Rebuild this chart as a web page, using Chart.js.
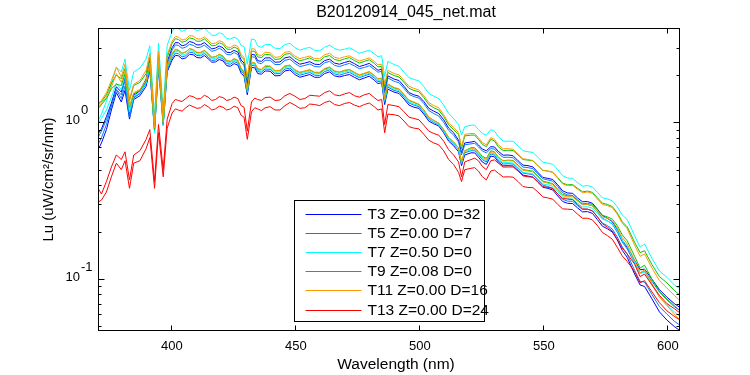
<!DOCTYPE html>
<html>
<head>
<meta charset="utf-8">
<script src="https://cdn.jsdelivr.net/npm/chart.js@4.4.0/dist/chart.umd.min.js"></script>
<style>
html, body { margin: 0; padding: 0; background: #fff; }
</style>
</head>
<body>
<canvas id="chart1" width="750" height="375"></canvas>
<script>
// wavelength grid (nm)
const wavelengths = [370.6,372,374,376,378,380,381.5,383.3,385,387.5,390,391.5,393.4,395,396.9,398.5,
	400.5,401.8,403,404.5,406,407.5,409,410.5,412,413.5,415,416.5,418,419.5,421,422.5,424,425.5,427,428.3,
	429.5,430.8,432.5,433.8,435,436.5,438,440,442,444,446,448,450,452,454,456,458,460,462,464,466,468,
	470,472,474,476,478,480,482,483.5,485,
	486.2,487.5,490,492,494,496,498,500,502,504,506,508,510,512,514,516,517.2,518.5,
	521,522.5,524,525.6,527.2,529,530.5,532,534,536,538,540,542,544,546,548,550,552,554,556,558,560,
	562,564,566,568,570,572,574,576,578,580,582,584,
	587,589.2,591,594,597,600,603,605.3];

const xTicks = [400, 450, 500, 550, 600];
const yTickExps = [-1, 0];

const legendLabels = ['T3 Z=0.00 D=32', 'T5 Z=0.00 D=7', 'T7 Z=0.50 D=0',
	'T9 Z=0.08 D=0', 'T11 Z=0.00 D=16', 'T13 Z=0.00 D=24'];
const colors = ['#0000ff', '#0a7bf0', '#00ffff', '#00c800', '#ff9900', '#ff0000'];

// T3 (two casts)
const t3a = [0.845,0.91,1.09,1.33,1.69,1.56,1.93,1.12,1.49,1.59,1.89,2.48,0.95,2.57,1.05,2.43,
	3.00,3.23,3.22,3.08,3.13,3.28,3.23,3.12,3.13,3.23,3.08,2.94,2.98,3.07,2.99,2.80,2.79,2.88,2.81,2.50,2.39,1.76,2.71,2.70,2.48,2.45,2.58,2.58,2.42,2.43,2.58,2.62,2.46,2.35,2.39,2.44,2.35,2.34,2.48,2.53,2.39,2.35,2.41,2.46,2.37,2.27,2.32,2.38,2.25,2.15,2.19,
	1.58,1.98,1.89,1.85,1.70,1.55,1.50,1.47,1.36,1.23,1.18,1.14,1.04,0.92,0.86,0.77,0.64,0.74,
	0.75,0.757,0.72,0.676,0.66,0.70,0.698,0.655,0.618,0.62,0.613,0.57,0.534,0.53,0.52,0.48,0.446,0.44,0.433,0.40,0.366,0.355,0.353,0.33,0.312,0.313,0.305,0.28,0.255,0.245,0.233,0.208,0.178,0.16,
	0.132,0.115,0.116,0.10,0.086,0.077,0.07,0.066];
const t3b = [0.67,0.74,0.90,1.20,1.55,1.35,1.60,1.05,1.40,1.48,1.70,2.15,0.88,2.25,0.96,2.10,
	2.50,2.68,2.66,2.54,2.58,2.72,2.70,2.59,2.58,2.67,2.55,2.42,2.43,2.52,2.47,2.30,2.28,2.37,2.32,2.06,1.97,1.50,2.24,2.23,2.05,2.03,2.13,2.12,1.98,1.99,2.13,2.16,2.02,1.94,1.98,2.02,1.94,1.94,2.05,2.10,1.98,1.95,1.99,2.02,1.94,1.87,1.92,1.97,1.86,1.77,1.79,
	1.30,1.63,1.56,1.53,1.41,1.29,1.25,1.23,1.13,1.02,0.98,0.95,0.86,0.76,0.71,0.65,0.53,0.62,
	0.64,0.64,0.60,0.559,0.54,0.61,0.603,0.56,0.529,0.53,0.528,0.495,0.461,0.455,0.448,0.415,0.386,0.38,0.371,0.34,0.313,0.305,0.304,0.285,0.269,0.27,0.263,0.24,0.218,0.21,0.20,0.178,0.153,0.138,
	0.108,0.092,0.09,0.075,0.062,0.055,0.05,0.047];
// T5
const t5a = [0.80,0.88,1.04,1.28,1.62,1.50,1.85,1.08,1.43,1.53,1.82,2.38,0.93,2.47,1.02,2.34,
	2.90,3.12,3.10,2.97,3.02,3.15,3.10,3.0,3.02,3.11,2.97,2.84,2.88,2.97,2.88,2.71,2.70,2.79,2.71,2.41,2.31,1.70,2.62,2.61,2.40,2.37,2.49,2.49,2.34,2.34,2.49,2.53,2.38,2.27,2.31,2.36,2.27,2.26,2.40,2.45,2.31,2.27,2.33,2.38,2.29,2.20,2.24,2.30,2.18,2.09,2.12,
	1.53,1.92,1.83,1.79,1.65,1.51,1.46,1.43,1.32,1.19,1.14,1.10,1.00,0.89,0.83,0.75,0.62,0.72,
	0.73,0.736,0.70,0.657,0.64,0.68,0.677,0.635,0.599,0.60,0.595,0.555,0.519,0.515,0.507,0.47,0.437,0.43,0.422,0.39,0.356,0.345,0.342,0.32,0.301,0.30,0.294,0.27,0.245,0.236,0.225,0.20,0.173,0.156,
	0.127,0.11,0.112,0.097,0.083,0.074,0.067,0.063];
const t5b = [0.72,0.80,0.97,1.27,1.62,1.42,1.70,1.10,1.45,1.53,1.76,2.22,0.90,2.32,0.99,2.17,
	2.58,2.77,2.74,2.62,2.66,2.80,2.78,2.67,2.66,2.75,2.62,2.48,2.50,2.60,2.54,2.37,2.35,2.44,2.39,2.12,2.03,1.54,2.31,2.30,2.11,2.09,2.19,2.18,2.04,2.05,2.19,2.22,2.08,2.00,2.04,2.08,2.00,1.99,2.11,2.16,2.04,2.00,2.05,2.09,2.00,1.93,1.98,2.03,1.92,1.82,1.84,
	1.34,1.68,1.60,1.57,1.45,1.33,1.29,1.26,1.16,1.05,1.00,0.97,0.88,0.78,0.73,0.67,0.545,0.64,
	0.66,0.66,0.62,0.578,0.56,0.63,0.62,0.575,0.543,0.545,0.543,0.51,0.475,0.47,0.464,0.43,0.398,0.39,0.381,0.35,0.323,0.315,0.314,0.295,0.279,0.28,0.273,0.25,0.228,0.22,0.209,0.186,0.161,0.145,
	0.114,0.097,0.096,0.08,0.067,0.06,0.054,0.051];
// T7
const t7a = [1.02,1.13,1.36,1.76,2.25,2.10,2.54,1.60,2.10,2.22,2.54,3.08,1.10,3.20,1.21,3.10,
	3.80,4.03,3.95,3.81,3.90,4.05,3.97,3.86,3.90,4.0,3.80,3.59,3.60,3.73,3.65,3.42,3.40,3.50,3.40,3.10,3.05,2.35,3.40,3.37,3.08,3.01,3.13,3.14,2.97,2.96,3.14,3.19,3.00,2.89,2.96,3.01,2.88,2.86,3.02,3.11,2.96,2.89,2.93,2.99,2.88,2.76,2.82,2.89,2.74,2.62,2.66,
	1.96,2.45,2.34,2.28,2.09,1.93,1.88,1.84,1.69,1.53,1.47,1.42,1.29,1.14,1.06,0.97,0.83,0.94,
	0.96,0.96,0.90,0.85,0.83,0.90,0.88,0.81,0.76,0.76,0.757,0.71,0.66,0.65,0.644,0.60,0.558,0.55,0.541,0.50,0.457,0.442,0.44,0.413,0.392,0.396,0.388,0.358,0.331,0.325,0.317,0.29,0.257,0.24,
	0.19,0.16,0.168,0.136,0.113,0.103,0.092,0.087];
const t7b = [0.98,1.06,1.20,1.45,1.78,1.62,1.98,1.17,1.46,1.55,1.78,2.28,0.86,2.38,0.95,2.22,
	2.66,2.85,2.82,2.69,2.73,2.87,2.84,2.72,2.72,2.81,2.68,2.54,2.56,2.66,2.60,2.43,2.40,2.49,2.44,2.16,2.07,1.57,2.36,2.35,2.15,2.13,2.24,2.22,2.08,2.10,2.24,2.27,2.12,2.04,2.08,2.12,2.04,2.04,2.16,2.20,2.08,2.05,2.10,2.13,2.04,1.96,2.01,2.06,1.95,1.85,1.87,
	1.38,1.71,1.63,1.60,1.47,1.35,1.31,1.28,1.17,1.06,1.01,0.97,0.88,0.78,0.73,0.67,0.55,0.65,
	0.67,0.67,0.63,0.588,0.57,0.64,0.631,0.585,0.553,0.555,0.551,0.515,0.48,0.475,0.469,0.435,0.405,0.40,0.392,0.362,0.334,0.326,0.325,0.305,0.289,0.29,0.284,0.262,0.242,0.236,0.227,0.205,0.178,0.163,
	0.128,0.108,0.112,0.092,0.077,0.069,0.062,0.058];
// T9
const t9a = [1.33,1.36,1.50,1.78,2.00,1.90,2.20,1.38,1.72,1.80,2.05,2.60,0.98,2.70,1.08,2.60,
	3.20,3.42,3.38,3.24,3.30,3.46,3.42,3.29,3.30,3.41,3.25,3.08,3.10,3.22,3.15,2.94,2.92,3.02,2.95,2.63,2.52,1.90,2.85,2.84,2.62,2.59,2.72,2.70,2.52,2.54,2.72,2.75,2.57,2.47,2.52,2.58,2.48,2.47,2.62,2.67,2.52,2.48,2.54,2.59,2.48,2.39,2.45,2.51,2.38,2.26,2.28,
	1.70,2.08,1.99,1.95,1.80,1.65,1.60,1.57,1.44,1.30,1.24,1.20,1.09,0.965,0.90,0.84,0.68,0.82,
	0.83,0.83,0.78,0.725,0.70,0.78,0.762,0.70,0.662,0.665,0.662,0.62,0.58,0.575,0.569,0.53,0.495,0.49,0.482,0.445,0.41,0.40,0.402,0.38,0.361,0.365,0.358,0.33,0.306,0.30,0.291,0.265,0.233,0.216,
	0.172,0.148,0.152,0.124,0.104,0.095,0.085,0.079];
const t9b = [1.22,1.30,1.42,1.64,1.75,1.72,2.05,1.25,1.52,1.60,1.83,2.35,0.90,2.45,0.98,2.28,
	2.72,2.91,2.88,2.76,2.82,2.95,2.90,2.78,2.78,2.87,2.74,2.60,2.63,2.71,2.64,2.47,2.45,2.54,2.48,2.20,2.10,1.60,2.40,2.39,2.19,2.17,2.28,2.27,2.13,2.14,2.28,2.31,2.16,2.08,2.12,2.16,2.08,2.07,2.19,2.24,2.12,2.09,2.14,2.17,2.08,2.00,2.05,2.10,1.99,1.89,1.91,
	1.41,1.75,1.66,1.63,1.50,1.38,1.34,1.30,1.20,1.08,1.03,0.99,0.90,0.80,0.75,0.69,0.56,0.66,
	0.69,0.69,0.65,0.608,0.59,0.66,0.649,0.60,0.57,0.575,0.572,0.535,0.50,0.495,0.489,0.455,0.422,0.415,0.407,0.375,0.347,0.34,0.34,0.32,0.303,0.305,0.30,0.277,0.256,0.25,0.242,0.22,0.192,0.176,
	0.14,0.118,0.123,0.10,0.084,0.075,0.068,0.063];
// T11
const t11a = [1.28,1.38,1.55,1.85,2.25,1.95,2.35,1.40,1.75,1.85,2.15,2.75,1.00,2.85,1.10,2.70,
	3.30,3.54,3.50,3.35,3.40,3.58,3.55,3.41,3.40,3.51,3.35,3.18,3.20,3.32,3.25,3.03,3.00,3.12,3.05,2.71,2.60,1.95,2.95,2.94,2.70,2.67,2.80,2.78,2.60,2.62,2.80,2.83,2.65,2.55,2.60,2.65,2.55,2.55,2.70,2.76,2.60,2.56,2.62,2.66,2.55,2.46,2.52,2.58,2.45,2.33,2.35,
	1.75,2.15,2.05,2.01,1.85,1.70,1.65,1.61,1.48,1.34,1.28,1.24,1.12,0.99,0.93,0.86,0.70,0.84,
	0.85,0.85,0.80,0.745,0.72,0.80,0.78,0.72,0.68,0.68,0.675,0.63,0.587,0.58,0.572,0.53,0.495,0.49,0.479,0.44,0.405,0.395,0.397,0.375,0.356,0.36,0.353,0.325,0.30,0.295,0.286,0.26,0.228,0.21,
	0.165,0.14,0.145,0.118,0.098,0.088,0.079,0.073];
const t11b = [1.25,1.33,1.45,1.68,2.05,1.80,2.15,1.27,1.55,1.62,1.86,2.40,0.92,2.48,1.00,2.30,
	2.75,2.94,2.90,2.76,2.80,2.95,2.92,2.80,2.80,2.89,2.75,2.60,2.62,2.72,2.66,2.48,2.46,2.55,2.50,2.22,2.12,1.62,2.42,2.40,2.20,2.18,2.30,2.29,2.14,2.15,2.30,2.32,2.17,2.09,2.13,2.17,2.09,2.09,2.21,2.26,2.13,2.10,2.15,2.18,2.09,2.01,2.06,2.11,2.00,1.90,1.92,
	1.42,1.76,1.67,1.64,1.51,1.39,1.35,1.31,1.20,1.08,1.03,0.99,0.90,0.80,0.75,0.69,0.56,0.66,
	0.68,0.68,0.64,0.598,0.58,0.65,0.644,0.60,0.567,0.57,0.567,0.53,0.495,0.49,0.484,0.45,0.417,0.41,0.402,0.37,0.342,0.335,0.335,0.315,0.298,0.30,0.294,0.27,0.25,0.245,0.236,0.213,0.185,0.168,
	0.132,0.11,0.115,0.094,0.077,0.068,0.06,0.055];
// T13
const t13a = [0.38,0.35,0.42,0.52,0.62,0.58,0.65,0.43,0.62,0.66,0.78,0.90,0.42,0.97,0.50,1.05,
	1.32,1.40,1.38,1.36,1.42,1.48,1.46,1.41,1.42,1.49,1.45,1.38,1.40,1.46,1.44,1.38,1.40,1.45,1.42,1.28,1.25,0.88,1.35,1.43,1.40,1.38,1.44,1.45,1.38,1.39,1.48,1.53,1.47,1.40,1.42,1.49,1.48,1.47,1.55,1.59,1.50,1.48,1.52,1.55,1.48,1.45,1.50,1.53,1.44,1.38,1.40,
	0.97,1.30,1.28,1.26,1.17,1.08,1.06,1.04,0.96,0.88,0.85,0.83,0.76,0.67,0.62,0.56,0.45,0.56,
	0.58,0.592,0.57,0.524,0.50,0.57,0.577,0.55,0.519,0.52,0.52,0.49,0.456,0.45,0.448,0.42,0.39,0.385,0.379,0.35,0.327,0.325,0.322,0.30,0.281,0.28,0.273,0.25,0.226,0.215,0.203,0.18,0.158,0.145,
	0.125,0.104,0.108,0.092,0.079,0.07,0.065,0.061];
const t13b = [0.31,0.32,0.36,0.45,0.55,0.50,0.57,0.38,0.55,0.57,0.68,0.80,0.38,0.86,0.45,0.92,
	1.15,1.22,1.20,1.18,1.24,1.29,1.26,1.23,1.24,1.30,1.26,1.20,1.22,1.27,1.25,1.20,1.22,1.27,1.24,1.11,1.08,0.78,1.17,1.24,1.22,1.19,1.24,1.26,1.20,1.20,1.28,1.34,1.29,1.23,1.24,1.31,1.30,1.28,1.34,1.37,1.30,1.28,1.32,1.34,1.29,1.26,1.30,1.33,1.26,1.20,1.22,
	0.86,1.13,1.12,1.10,1.02,0.94,0.92,0.91,0.84,0.77,0.74,0.72,0.66,0.58,0.54,0.48,0.42,0.50,
	0.51,0.515,0.49,0.451,0.43,0.49,0.497,0.475,0.449,0.45,0.448,0.42,0.39,0.385,0.384,0.36,0.335,0.33,0.324,0.30,0.281,0.28,0.278,0.26,0.245,0.245,0.239,0.22,0.199,0.19,0.18,0.16,0.141,0.13,
	0.112,0.095,0.098,0.083,0.071,0.063,0.058,0.055];

const traces = [[t3a, t3b], [t5a, t5b], [t7a, t7b], [t9a, t9b], [t11a, t11b], [t13a, t13b]];

const FONT = '"Liberation Sans", Arial, Helvetica, sans-serif';

// 데이터셋 만들기: 나중 시리즈가 위에 그려지도록 order 지정
const datasets = [];
traces.forEach((pair, s) => {
	pair.forEach((vals, k) => {
		datasets.push({
			label: legendLabels[s],
			legendEntry: k === 0,
			data: wavelengths.map((w, i) => ({ x: w, y: vals[i] })),
			borderColor: colors[s],
			borderWidth: 1,
			pointRadius: 0,
			tension: 0,
			order: traces.length - s
		});
	});
});

// matlab 스타일 축, 눈금, 글자
const matlabAxes = {
	id: 'matlabAxes',
	afterDatasetsDraw(chart) {
		const { ctx, chartArea: a, scales: { x, y } } = chart;
		const L = Math.round(a.left) + 0.5, R = Math.round(a.right) - 0.5;
		const T = Math.round(a.top) + 0.5, B = Math.round(a.bottom) - 0.5;
		const midX = (a.left + a.right) / 2;
		ctx.save();
		ctx.strokeStyle = '#000';
		ctx.lineWidth = 1;
		ctx.strokeRect(L, T, R - L, B - T);
		ctx.beginPath();
		xTicks.forEach(v => {
			const px = Math.round(x.getPixelForValue(v)) + 0.5;
			ctx.moveTo(px, B); ctx.lineTo(px, B - 5);
			ctx.moveTo(px, T); ctx.lineTo(px, T + 5);
		});
		for (let d = -2; d <= 0; d++) {
			for (let m = 1; m <= 9; m++) {
				const v = m * Math.pow(10, d);
				if (v < y.min || v > y.max) continue;
				const py = Math.round(y.getPixelForValue(v)) + 0.5;
				const len = m === 1 ? 6 : 3;
				ctx.moveTo(L, py); ctx.lineTo(L + len, py);
				ctx.moveTo(R, py); ctx.lineTo(R - len, py);
			}
		}
		ctx.stroke();

		ctx.fillStyle = '#000';
		ctx.font = '13px ' + FONT;
		ctx.textAlign = 'center';
		ctx.textBaseline = 'middle';
		xTicks.forEach(v => ctx.fillText(String(v), x.getPixelForValue(v) + 1, a.bottom + 15));

		yTickExps.forEach(e => {
			const py = y.getPixelForValue(Math.pow(10, e));
			ctx.textAlign = 'right';
			ctx.fillText('10', a.left - 18, py - 2);
			ctx.textAlign = 'left';
			ctx.fillText(String(e), a.left - 17, py - 12);
		});

		ctx.textAlign = 'center';
		ctx.font = '15.5px ' + FONT;
		ctx.fillText('Wavelength (nm)', midX + 7, a.bottom + 34);
		ctx.font = '16px ' + FONT;
		ctx.fillText('B20120914_045_net.mat', midX + 17, 12.5);
		ctx.font = '15px ' + FONT;
		ctx.save();
		ctx.translate(49, (a.top + a.bottom) / 2);
		ctx.rotate(-Math.PI / 2);
		ctx.fillText('Lu (uW/cm\u00b2/sr/nm)', 0, 0);
		ctx.restore();

		// legend box
		const bx = 294.5, by = 200.5, bw = 190, bh = 121;
		ctx.fillStyle = '#fff';
		ctx.fillRect(bx, by, bw, bh);
		ctx.strokeRect(bx, by, bw, bh);
		ctx.font = '15.5px ' + FONT;
		ctx.textAlign = 'left';
		let row = 0;
		chart.data.datasets.forEach(ds => {
			if (!ds.legendEntry) return;
			const ly = Math.round(by + 13 + row * 19.2) + 0.5;
			ctx.strokeStyle = ds.borderColor;
			ctx.beginPath();
			ctx.moveTo(bx + 11, ly); ctx.lineTo(bx + 67, ly);
			ctx.stroke();
			ctx.fillStyle = '#000';
			ctx.fillText(ds.label, bx + 73, ly);
			row++;
		});
		ctx.restore();
	}
};

new Chart(document.getElementById('chart1'), {
	type: 'line',
	data: { datasets: datasets },
	options: {
		responsive: false,
		animation: false,
		devicePixelRatio: 1,
		layout: { padding: { left: 98, right: 70, top: 28, bottom: 44 } },
		plugins: { legend: { display: false }, tooltip: { enabled: false } },
		scales: {
			x: { type: 'linear', min: 370.6, max: 605.3, display: false },
			y: { type: 'logarithmic', min: 0.0468, max: 4.0, display: false }
		}
	},
	plugins: [matlabAxes]
});
</script>
</body>
</html>
